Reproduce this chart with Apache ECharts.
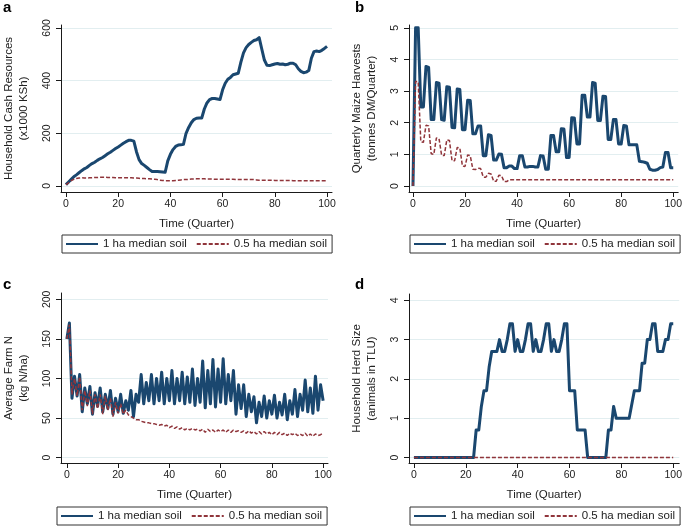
<!DOCTYPE html>
<html><head><meta charset="utf-8">
<script src="https://cdn.jsdelivr.net/npm/echarts@6/dist/echarts.min.js"></script>
<style>html,body{margin:0;padding:0;background:#fff}#c{width:685px;height:527px}</style>
</head><body><div id="c"></div>
<script>
// ---- data ----
const quarters = Array.from({length: 101}, (_, i) => i);
const timeTicks = [0, 20, 40, 60, 80, 100];
const seriesNames = ['1 ha median soil', '0.5 ha median soil'];

// a: Household cash resources (x1000 KSh)
const cashTicks = [0, 200, 400, 600];
const cashOneHa = [5,15,25,35,42,50,58,65,70,78,85,90,97,103,108,115,122,128,135,142,
  148,155,162,168,173,173,170,130,100,85,78,70,62,55,55,55,54,53,52,95,
  120,138,150,155,156,158,200,222,240,252,257,258,258,292,315,328,332,332,330,328,
  365,390,405,412,422,425,428,470,505,525,537,545,552,555,563,520,478,458,457,460,
  463,465,462,463,460,462,466,466,460,445,435,430,432,438,485,510,512,510,515,522,530];
const cashHalfHa = [5,12,20,25,28,30,31,30,30,31,31,32,32,33,33,33,32,32,32,31,
  31,31,31,31,31,31,30,30,29,28,28,27,27,26,25,24,22,21,20,20,
  20,20,21,22,23,24,24,25,26,26,27,27,27,27,26,26,26,25,25,25,
  25,25,25,25,25,24,24,24,24,24,24,24,24,23,22,22,22,22,22,22,
  21,21,21,21,21,21,21,20,20,20,20,20,20,20,20,20,20,20,20,20,20];

// b: Quarterly maize harvests (tonnes DM/quarter)
const harvestTicks = [0, 1, 2, 3, 4, 5];
const harvestOneHa = [0,5.0,5.0,2.5,2.5,3.78,3.75,2.1,2.1,3.27,3.25,2.1,2.08,3.14,3.12,1.85,1.84,3.07,3.05,1.78,1.78,
  2.71,2.7,1.65,1.65,1.9,1.9,0.96,0.96,1.62,1.6,0.82,0.82,1.01,1.0,0.58,0.58,0.63,0.63,0.55,0.55,
  0.96,0.96,0.6,0.6,0.62,0.62,0.6,0.6,0.96,0.95,0.53,0.53,1.6,1.6,1.08,1.08,1.81,1.8,0.9,0.9,
  2.16,2.15,1.33,1.33,2.87,2.87,2.18,2.18,3.27,3.25,2.07,2.07,2.84,2.83,1.47,1.47,2.1,2.1,1.33,1.33,
  1.91,1.9,1.3,1.3,1.3,1.3,0.78,0.77,0.75,0.72,0.53,0.5,0.5,0.52,0.58,0.6,1.06,1.06,0.58,0.58];
const harvestHalfHa = [0,3.3,3.3,1.4,1.38,1.92,1.9,1.02,1.0,1.52,1.5,0.97,0.96,1.46,1.44,0.8,0.8,1.22,1.2,0.63,0.62,
  0.98,0.96,0.53,0.52,0.56,0.55,0.28,0.28,0.4,0.38,0.15,0.15,0.34,0.33,0.14,0.14,0.2,0.2,0.2,0.2,
  0.2,0.2,0.2,0.2,0.2,0.2,0.2,0.2,0.2,0.2,0.2,0.2,0.2,0.2,0.2,0.2,0.2,0.2,0.2,0.2,
  0.2,0.2,0.2,0.2,0.2,0.2,0.2,0.2,0.2,0.2,0.2,0.2,0.2,0.2,0.2,0.2,0.2,0.2,0.2,0.2,
  0.2,0.2,0.2,0.2,0.2,0.2,0.2,0.2,0.2,0.2,0.2,0.2,0.2,0.2,0.2,0.2,0.2,0.2,0.2,0.2];

// c: Average farm N (kg N/ha)
const nitrogenTicks = [0, 50, 100, 150, 200];
const nitrogenOneHa = [150,170,75,103,78,105,58,88,68,90,
  55,82,65,88,58,80,62,85,55,75,
  58,80,56,72,60,85,52,80,70,105,
  68,95,72,105,68,100,72,108,68,100,
  72,110,68,100,72,108,68,102,70,112,
  66,100,70,122,63,110,68,124,64,112,
  70,125,68,105,72,110,55,92,62,92,
  52,80,58,77,44,70,52,78,50,72,
  55,79,50,70,54,80,48,72,55,86,
  52,80,60,98,58,88,56,103,60,92,
  72];
const nitrogenHalfHa = [150,168,80,100,78,102,60,85,65,85,
  55,80,62,80,55,78,60,75,52,70,
  56,68,55,60,54,52,50,48,48,46,
  45,44,44,43,43,42,41,42,40,41,
  38,40,37,39,36,38,35,37,35,37,
  35,36,34,36,32,36,33,35,32,35,
  33,35,32,35,32,35,33,34,32,34,
  31,34,31,33,30,33,30,33,30,32,
  29,32,29,32,29,31,28,31,29,31,
  28,30,28,31,27,30,27,30,28,29,
  31];

// d: Household herd size (animals in TLU)
const herdTicks = [0, 1, 2, 3, 4];
const herdOneHa = [0,0,0,0,0,0,0,0,0,0,0,0,0,0,0,0,0,0,0,0,0,0,0,0,
  0.7,0.7,1.3,1.7,1.7,2.3,
  2.7,2.7,2.7,3.0,2.7,2.7,3.0,3.4,3.4,2.7,
  3.0,2.7,2.7,3.0,3.4,3.4,2.7,3.0,2.7,2.7,
  3.0,3.4,3.4,2.7,3.0,2.7,2.7,3.0,3.4,3.4,
  1.7,1.7,1.7,0.7,0.7,0.7,0.7,0,0,0,
  0,0,0,0,0,0.7,0.7,1.3,1.0,1.0,
  1.0,1.0,1.0,1.0,1.35,1.7,1.7,1.7,2.4,2.4,
  3.0,3.0,3.4,3.4,2.7,2.7,2.7,3.0,3.0,3.4,
  3.4];
const herdHalfHa = [0,0,0,0,0,0,0,0,0,0,0,0,0,0,0,0,0,0,0,0,0,0,0,0,0,0,0,0,0,0,
  0,0,0,0,0,0,0,0,0,0,0,0,0,0,0,0,0,0,0,0,0,0,0,0,0,0,0,0,0,0,
  0,0,0,0,0,0,0,0,0,0,0,0,0,0,0,0,0,0,0,0,0,0,0,0,0,0,0,0,0,0,
  0,0,0,0,0,0,0,0,0,0,0];

// ---- styling / layout ----
const FONT = "'Liberation Sans', Arial, Helvetica, sans-serif";
const BLUE = '#1a476f', RED = '#90353b', AXIS = '#1a1a1a', GRIDC = '#e2eef0', TXT = '#222';

const panels = [
  {letter:'a', lp:{left:3, top:0}, grid:{left:60, top:25, width:272, height:167}, x:[-1.9, 101.9], y:[-23, 611],
   yTicks:cashTicks, yName:'Household Cash Resources\n(x1000 KSh)', one:cashOneHa, half:cashHalfHa, lg:{left:62, top:235}},
  {letter:'b', lp:{left:355, top:0}, grid:{left:409, top:25, width:271, height:167}, x:[-1.53, 101.9], y:[-0.19, 5.09],
   yTicks:harvestTicks, yName:'Quarterly Maize Harvests\n(tonnes DM/Quarter)', one:harvestOneHa, half:harvestHalfHa, lg:{left:410, top:235}},
  {letter:'c', lp:{left:3, top:277}, grid:{left:54, top:293, width:274, height:170}, x:[-2.28, 101.9], y:[-6.7, 208],
   yTicks:nitrogenTicks, yName:'Average Farm N\n(kg N/ha)', one:nitrogenOneHa, half:nitrogenHalfHa, lg:{left:57, top:507}},
  {letter:'d', lp:{left:355, top:277}, grid:{left:409, top:294, width:272, height:169}, x:[-1.9, 102.3], y:[-0.14, 4.16],
   yTicks:herdTicks, yName:'Household Herd Size\n(animals in TLU)', one:herdOneHa, half:herdHalfHa, lg:{left:410, top:507}}
];

const option = {animation:false, backgroundColor:'#fff', title:[], grid:[], xAxis:[], yAxis:[], series:[], legend:[]};
panels.forEach((p, i) => {
  option.title.push({text:p.letter, left:p.lp.left, top:p.lp.top, padding:0,
    textStyle:{fontSize:15, fontWeight:'bold', fontFamily:FONT, color:'#000'}});
  option.grid.push(Object.assign({containLabel:false}, p.grid));
  option.xAxis.push({type:'value', gridIndex:i, min:p.x[0], max:p.x[1],
    axisLine:{show:true, onZero:false, lineStyle:{color:AXIS, width:1}},
    axisTick:{show:true, length:5, customValues:timeTicks, lineStyle:{color:AXIS}},
    axisLabel:{customValues:timeTicks, margin:7, fontSize:10.5, color:TXT, fontFamily:FONT},
    splitLine:{show:false},
    name:'Time (Quarter)', nameLocation:'middle', nameGap:26,
    nameTextStyle:{fontSize:11.5, color:TXT, fontFamily:FONT}});
  option.yAxis.push({type:'value', gridIndex:i, min:p.y[0], max:p.y[1],
    axisLine:{show:true, onZero:false, lineStyle:{color:AXIS, width:1}},
    axisTick:{show:true, length:5, customValues:p.yTicks, lineStyle:{color:AXIS}},
    axisLabel:{customValues:p.yTicks, rotate:90, margin:8, fontSize:10.5, color:TXT, fontFamily:FONT},
    splitLine:{show:true, lineStyle:{color:GRIDC, width:1}},
    name:p.yName, nameLocation:'middle', nameGap:30,
    nameTextStyle:{fontSize:11.5, lineHeight:15, color:TXT, fontFamily:FONT, align:'center'}});
  option.series.push({type:'line', name:seriesNames[0], xAxisIndex:i, yAxisIndex:i, symbol:'none',
    data:quarters.map((q, k) => [q, p.one[k]]),
    lineStyle:{color:BLUE, width:3, join:'round'}, itemStyle:{color:BLUE}});
  option.series.push({type:'line', name:seriesNames[1], xAxisIndex:i, yAxisIndex:i, symbol:'none',
    data:quarters.map((q, k) => [q, p.half[k]]),
    lineStyle:{color:RED, width:1.5, type:[4, 2]}, itemStyle:{color:RED}});
  option.legend.push({left:p.lg.left, top:p.lg.top, orient:'horizontal', data:seriesNames,
    itemWidth:32, itemHeight:14, itemGap:9, selectedMode:false,
    itemStyle:{opacity:0, borderWidth:0},
    textStyle:{fontSize:11.5, fontFamily:FONT, color:TXT},
    borderColor:'#333', borderWidth:1, borderRadius:0, padding:[3, 5, 3, 3]});
});

const chart = echarts.init(document.getElementById('c'), null, {renderer:'canvas'});
chart.setOption(option);
</script></body></html>
